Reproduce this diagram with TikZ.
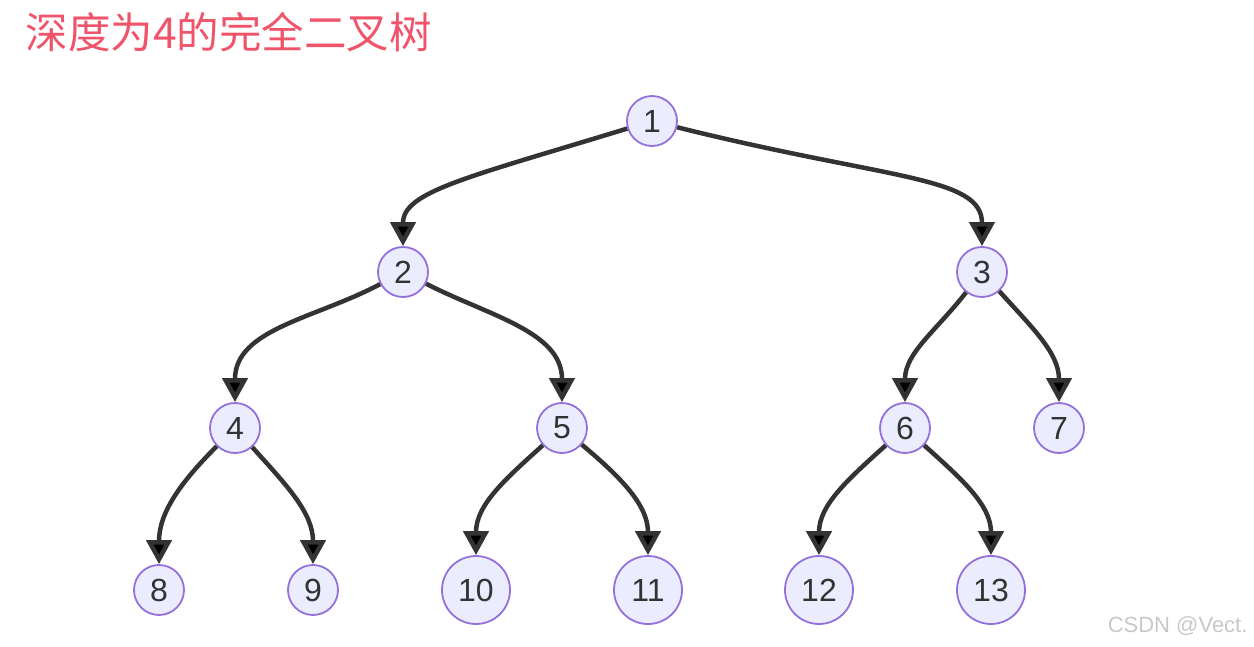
\documentclass[tikz,border=0pt]{standalone}
\usepackage{fontspec}
\setmainfont{Liberation Sans}
\newfontfamily\cjk{Noto Sans CJK SC}
\usepackage{xcolor}
\usetikzlibrary{arrows.meta}
\definecolor{nodefill}{HTML}{ECECFF}
\definecolor{nodeline}{HTML}{9370DB}
\definecolor{edgeline}{HTML}{333333}
\definecolor{titlered}{RGB}{240,84,106}
\definecolor{markgray}{RGB}{200,200,200}

\begin{document}
\begin{tikzpicture}[
                x=1pt, y=1pt,
                vertex/.style={circle, draw=nodeline, fill=nodefill, line width=1.8pt,
                    inner sep=0pt, minimum size=50pt, text=edgeline,
                    font=\fontsize{32}{38}\selectfont},
                wide/.style={minimum size=68pt},
                link/.style={draw=edgeline, line width=4.5pt,
                    -{Triangle[length=24pt, width=25pt]}},
                lean/.style={out looseness=1.7, in looseness=0.55}
            ]
                \useasboundingbox (0,0) rectangle (1254,-647);

                % Title and watermark
                \node[anchor=west, text=titlered, font=\cjk\fontsize{42.5}{48}\selectfont]
                    (title) at (22,-32) {深度为4的完全二叉树};
                \node[anchor=east, text=markgray, font=\fontsize{22}{26}\selectfont]
                    (mark) at (1251,-626) {CSDN @Vect.};

                % Nodes
                \node[vertex] (n1) at (652,-121) {1};
                \node[vertex] (n2) at (403,-272) {2};
                \node[vertex] (n3) at (982,-272) {3};
                \node[vertex] (n4) at (235,-428) {4};
                \node[vertex] (n5) at (562,-428) {5};
                \node[vertex] (n6) at (905,-428) {6};
                \node[vertex] (n7) at (1059,-428) {7};
                \node[vertex] (n8) at (159,-590) {8};
                \node[vertex] (n9) at (313,-590) {9};
                \node[vertex, wide] (n10) at (476,-590) {10};
                \node[vertex, wide] (n11) at (648,-590) {11};
                \node[vertex, wide] (n12) at (819,-590) {12};
                \node[vertex, wide] (n13) at (991,-590) {13};

                % Edges
                \path[link]
                    (n1) edge[out=197, in=90, lean] (n2)
                    (n1) edge[out=-14, in=90, lean] (n3)
                    (n2) edge[out=208, in=90] (n4)
                    (n2) edge[out=-27, in=90] (n5)
                    (n3) edge[out=232, in=90] (n6)
                    (n3) edge[out=-48, in=90] (n7)
                    (n4) edge[out=225, in=90] (n8)
                    (n4) edge[out=-48, in=90] (n9)
                    (n5) edge[out=222, in=90] (n10)
                    (n5) edge[out=-40, in=90] (n11)
                    (n6) edge[out=222, in=90] (n12)
                    (n6) edge[out=-42, in=90] (n13);
            \end{tikzpicture}
\end{document}
